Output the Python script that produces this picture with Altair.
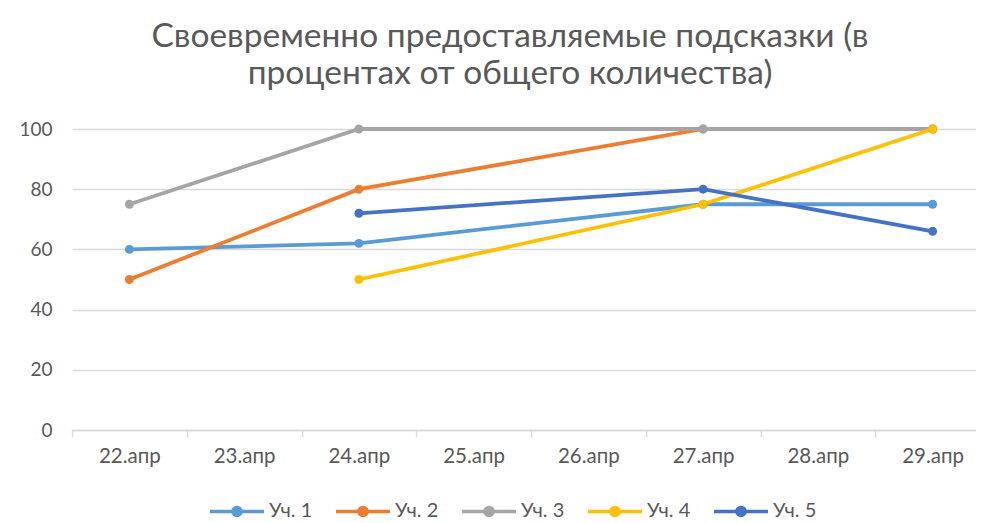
import altair as alt
import pandas as pd

dates = ["22.апр", "23.апр", "24.апр", "25.апр", "26.апр", "27.апр", "28.апр", "29.апр"]
series_names = ["Уч. 1", "Уч. 2", "Уч. 3", "Уч. 4", "Уч. 5"]
colors = ["#5B9BD5", "#ED7D31", "#A5A5A5", "#FFC000", "#4472C4"]

uch1_dates = ["22.апр", "24.апр", "27.апр", "29.апр"]
uch1_vals = [60, 62, 75, 75]
uch2_dates = ["22.апр", "24.апр", "27.апр", "29.апр"]
uch2_vals = [50, 80, 100, 100]
uch3_dates = ["22.апр", "24.апр", "27.апр", "29.апр"]
uch3_vals = [75, 100, 100, 100]
uch4_dates = ["24.апр", "27.апр", "29.апр"]
uch4_vals = [50, 75, 100]
uch5_dates = ["24.апр", "27.апр", "29.апр"]
uch5_vals = [72, 80, 66]

y_ticks = [0, 20, 40, 60, 80, 100]
title_lines = ["Своевременно предоставляемые подсказки (в", "процентах от общего количества)"]

rows = []
for name, ds, vs in zip(series_names,
                        [uch1_dates, uch2_dates, uch3_dates, uch4_dates, uch5_dates],
                        [uch1_vals, uch2_vals, uch3_vals, uch4_vals, uch5_vals]):
    for d, v in zip(ds, vs):
        rows.append({"date": d, "value": v, "series": name, "order": series_names.index(name)})
df = pd.DataFrame(rows)

FONT = "Lato"
TXT = "#595959"

x_enc = alt.X("date:N", sort=dates,
              scale=alt.Scale(type="band", domain=dates, paddingInner=0, paddingOuter=0, range=[0, 918]),
              axis=alt.Axis(title=None, tickBand="extent", labelAngle=0, grid=False,
                            domainColor="#D9D9D9", domainWidth=1.5, tickColor="#D9D9D9",
                            tickWidth=1.5, tickSize=7, labelPadding=9,
                            labelFontSize=20.5, labelColor=TXT, labelFont=FONT))
y_enc = alt.Y("value:Q", scale=alt.Scale(domain=[0, 100], nice=False),
              axis=alt.Axis(title=None, values=y_ticks, domain=False, ticks=False,
                            gridColor="#D9D9D9", gridWidth=1.5, labelPadding=20,
                            labelFontSize=19, labelColor=TXT, labelFont=FONT))
color_enc = alt.Color("series:N", sort=series_names,
                      scale=alt.Scale(domain=series_names, range=colors),
                      legend=alt.Legend(title=None, orient="none", direction="horizontal",
                                        legendX=136, legendY=353,
                                        symbolType="M-1,0H1M-0.15,0A0.15,0.15 0 1,0 0.15,0A0.15,0.15 0 1,0 -0.15,0",
                                        symbolSize=2916, symbolStrokeWidth=3.5,
                                        labelFontSize=20, labelColor=TXT, labelFont=FONT,
                                        labelOffset=3, columnPadding=16))

base = alt.Chart(df).encode(x=x_enc, y=y_enc, color=color_enc, order="order:Q")

lines = base.mark_line(strokeWidth=3.8)
points = base.mark_point(filled=True, size=80, opacity=1, shape="circle")

chart = alt.layer(lines, points).properties(
    width=904, height=301,
    title=alt.TitleParams(title_lines, fontSize=33.5, color=TXT, font=FONT, fontWeight="normal",
                          lineHeight=37, anchor="middle", dx=-14, offset=29),
    autosize=alt.AutoSizeParams(type="none"),
    padding={"left": 64, "top": 121, "right": 0, "bottom": 90},
).configure_view(stroke=None).configure_legend(symbolFillColor=None)

chart.save("out.html", embed_options={"renderer": "svg", "actions": False})
